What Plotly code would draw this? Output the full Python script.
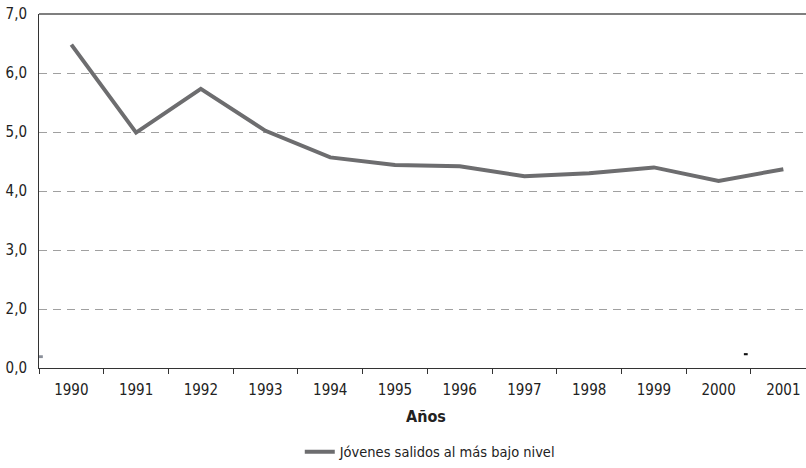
import plotly.graph_objects as go

years = ["1990", "1991", "1992", "1993", "1994", "1995", "1996", "1997", "1998", "1999", "2000", "2001"]
values = [6.48, 4.99, 5.73, 5.02, 4.57, 4.44, 4.42, 4.25, 4.30, 4.40, 4.17, 4.37]
series_name = "Jóvenes salidos al más bajo nivel"
y_tickvals = [1, 2, 3, 4, 5, 6, 7]
y_ticktext = ["0,0", "2,0", "3,0", "4,0", "5,0", "6,0", "7,0"]

FONT = "'DejaVu Sans Condensed', 'Liberation Sans Narrow', sans-serif"

fig = go.Figure()
fig.add_trace(go.Scatter(
    x=years, y=values, mode="lines", name=series_name,
    line=dict(color="#6d6d6f", width=4),
))

fig.update_layout(
    width=806, height=468,
    margin=dict(l=39, r=0, t=14, b=96),
    paper_bgcolor="white", plot_bgcolor="white",
    font=dict(family=FONT, size=15, color="#222"),
    showlegend=True,
    legend=dict(orientation="h", x=0.340, xanchor="left", y=-0.237, yanchor="middle",
                font=dict(size=14.5, color="#222"), itemwidth=30),
    xaxis=dict(
        type="category", range=[-0.5, 11.35], automargin=False,
        showline=True, linecolor="#333", linewidth=1,
        ticks="outside", tickson="boundaries", ticklen=5, tickcolor="#333",
        ticklabelstandoff=8,
        showgrid=False, tickfont=dict(size=15, color="#222"),
    ),
    yaxis=dict(
        range=[1, 7], tickvals=y_tickvals, ticktext=y_ticktext, automargin=False,
        showline=True, linecolor="#333", linewidth=1,
        showgrid=True, gridcolor="#a0a0a0", griddash="8px,6px", gridwidth=1,
        zeroline=False, ticks="", ticklabelstandoff=8,
        tickfont=dict(size=15, color="#222"),
    ),
    annotations=[dict(text="<b>Años</b>", xref="paper", yref="paper", x=0.5046, y=-0.137,
                      yanchor="middle", showarrow=False, font=dict(size=16, color="#222"))],
    shapes=[
        dict(type="line", xref="paper", yref="paper", x0=0, x1=1, y0=1, y1=1,
             line=dict(color="#555", width=1.5)),
        dict(type="rect", xref="paper", yref="paper", x0=0.0, x1=0.005, y0=0.028, y1=0.036,
             fillcolor="#8a8f99", line=dict(width=0)),
        dict(type="rect", xref="paper", yref="paper", x0=0.919, x1=0.924, y0=0.036, y1=0.042,
             fillcolor="#111", line=dict(width=0)),
    ],
)

fig.write_html("out.html", config={"displayModeBar": False},
               post_script="document.body.style.margin='0';document.body.style.overflow='hidden';")
